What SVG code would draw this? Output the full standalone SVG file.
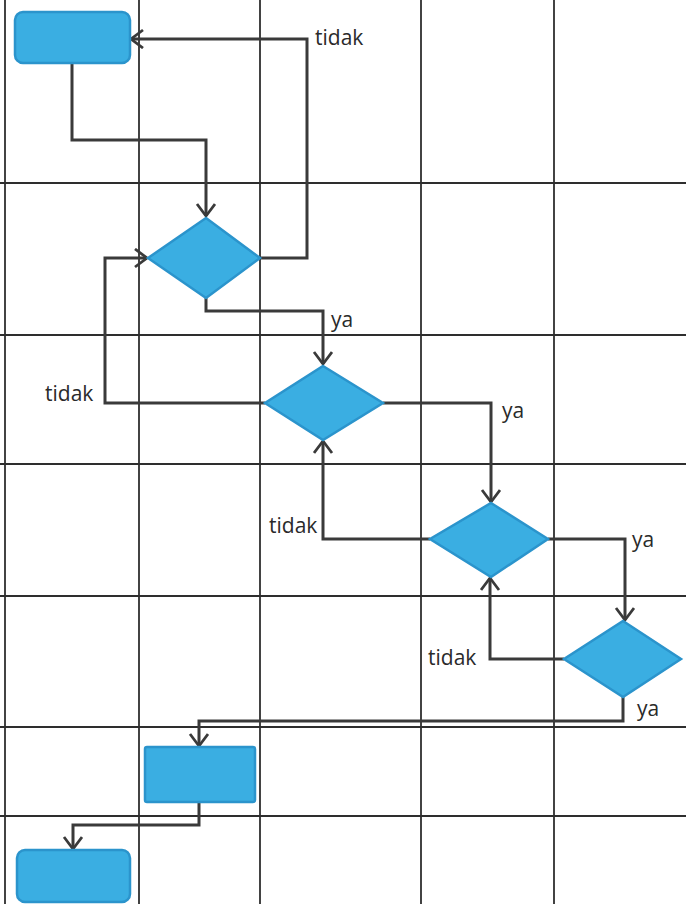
<svg xmlns="http://www.w3.org/2000/svg" width="686" height="904" viewBox="0 0 686 904">
<defs>
<style>
.grid line{stroke:#2e2e2e;stroke-width:1.8}
.conn path{fill:none;stroke:#3a3a3a;stroke-width:3;stroke-linejoin:miter}
.node{fill:#3aaee2;stroke:#2b94cc;stroke-width:2.5}
.lbl{font-family:"Open Sans","Liberation Sans",sans-serif;font-size:21px;fill:#2a2a2a}
</style>
<marker id="arr" markerWidth="16" markerHeight="22" refX="13" refY="10" orient="auto" markerUnits="userSpaceOnUse">
<path d="M1,1 L13,10 L1,19" fill="none" stroke="#3a3a3a" stroke-width="2.8"/>
</marker>
</defs>
<rect width="686" height="904" fill="#ffffff"/>
<g class="grid">
<line x1="5" y1="0" x2="5" y2="904"/>
<line x1="139" y1="0" x2="139" y2="904"/>
<line x1="260" y1="0" x2="260" y2="904"/>
<line x1="421" y1="0" x2="421" y2="904"/>
<line x1="554" y1="0" x2="554" y2="904"/>
<line x1="0" y1="183" x2="686" y2="183"/>
<line x1="0" y1="335" x2="686" y2="335"/>
<line x1="0" y1="464" x2="686" y2="464"/>
<line x1="0" y1="596" x2="686" y2="596"/>
<line x1="0" y1="727" x2="686" y2="727"/>
<line x1="0" y1="816" x2="686" y2="816"/>
</g>
<g id="connectors" class="conn">
<path d="M72,63 V140 H206 V216" marker-end="url(#arr)"/>
<path d="M260,258 H307 V39 H131" marker-end="url(#arr)"/>
<path d="M206,298 V311 H323 V364" marker-end="url(#arr)"/>
<path d="M265,403 H105 V258 H147" marker-end="url(#arr)"/>
<path d="M383,403 H491 V502" marker-end="url(#arr)"/>
<path d="M430,539 H323 V441" marker-end="url(#arr)"/>
<path d="M548,539 H625 V620" marker-end="url(#arr)"/>
<path d="M564,659 H490 V578" marker-end="url(#arr)"/>
<path d="M623,697 V721 H199 V746" marker-end="url(#arr)"/>
<path d="M199,802 V825 H73 V849" marker-end="url(#arr)"/>
</g>
<g id="start"><rect class="node" x="15" y="12" width="115" height="51" rx="8"/></g>
<g id="d1"><polygon class="node" points="206,218 260,258 206,298 148,258"/></g>
<g id="d2"><polygon class="node" points="323,366 383,403 323,440 265,403"/></g>
<g id="d3"><polygon class="node" points="491,503 548,539 491,577 430,539"/></g>
<g id="d4"><polygon class="node" points="623,621 681,659 623,697 564,659"/></g>
<g id="proc"><rect class="node" x="145" y="747" width="110" height="55" rx="2"/></g>
<g id="end"><rect class="node" x="17" y="850" width="113" height="52" rx="8"/></g>
<g id="labels">
<text class="lbl" x="315" y="45">tidak</text>
<text class="lbl" x="331" y="327">ya</text>
<text class="lbl" x="45" y="401">tidak</text>
<text class="lbl" x="502" y="418">ya</text>
<text class="lbl" x="269" y="533">tidak</text>
<text class="lbl" x="632" y="547">ya</text>
<text class="lbl" x="428" y="665">tidak</text>
<text class="lbl" x="637" y="716">ya</text>
</g>
</svg>
